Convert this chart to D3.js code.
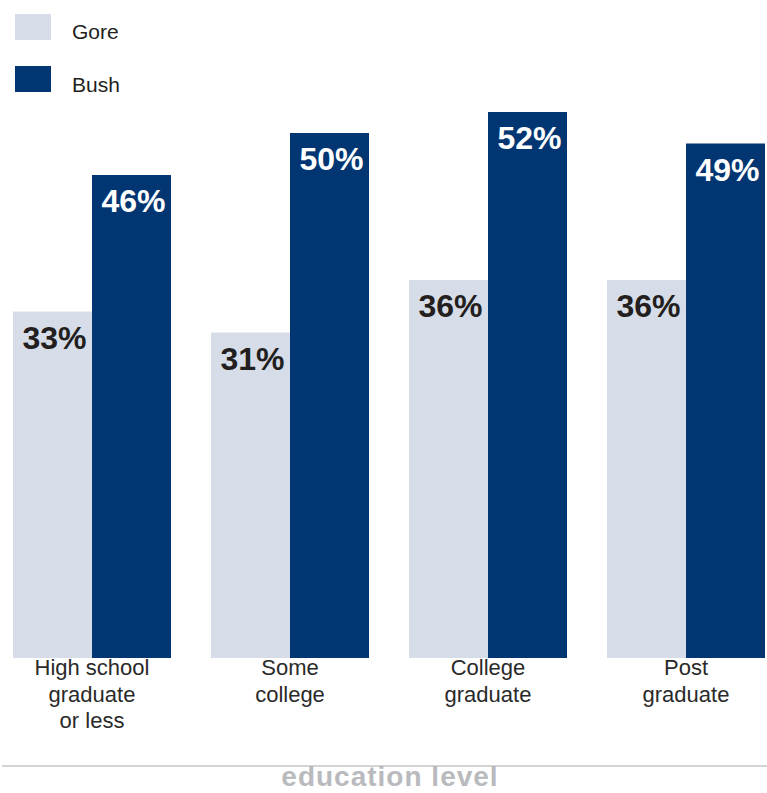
<!DOCTYPE html>
<html><head><meta charset="utf-8">
<script src="https://cdn.jsdelivr.net/npm/d3@7"></script>
<style>html,body{margin:0;padding:0;background:#fff;}svg{display:block;}</style>
</head><body>
<script>
const categories = [["High school","graduate","or less"],["Some","college"],["College","graduate"],["Post","graduate"]];
const categoryKeys = ["hs","some","college","post"];
const series = ["Gore","Bush"];
const goreValues = [33, 31, 36, 36];
const bushValues = [46, 50, 52, 49];
const colors = {Gore:"#d7dde8", Bush:"#023672"};
const labelColors = {Gore:"#231f20", Bush:"#ffffff"};

const W = 767, H = 793;
const svg = d3.select("body").append("svg").attr("width", W).attr("height", H);

const x0 = d3.scaleBand().domain(categoryKeys).range([13, 765]).paddingInner(40/198);
const x1 = d3.scaleBand().domain(series).range([0, x0.bandwidth()]);
const y = d3.scaleLinear().domain([0, 50]).range([658, 133]);

const data = categoryKeys.map((k, i) => ({key: k, values: [{s:"Gore", v: goreValues[i]}, {s:"Bush", v: bushValues[i]}]}));

const g = svg.append("g");
const groups = g.selectAll("g.grp").data(data).join("g")
  .attr("class","grp").attr("transform", d => `translate(${x0(d.key)},0)`);

groups.selectAll("rect").data(d => d.values).join("rect")
  .attr("x", d => x1(d.s)).attr("width", x1.bandwidth())
  .attr("y", d => y(d.v)).attr("height", d => y(0) - y(d.v))
  .attr("fill", d => colors[d.s]);

groups.selectAll("text.val").data(d => d.values).join("text")
  .attr("class","val")
  .attr("x", d => x1(d.s) + x1.bandwidth()/2 + 2)
  .attr("y", d => y(d.v) + 37)
  .attr("text-anchor","middle")
  .attr("font-family","Liberation Sans, Arial, sans-serif")
  .attr("font-weight","bold").attr("font-size", 32)
  .attr("fill", d => labelColors[d.s])
  .text(d => d.v + "%");

// category labels
groups.each(function(d, i){
  const t = d3.select(this).append("text")
    .attr("text-anchor","middle")
    .attr("font-family","Liberation Sans, Arial, sans-serif")
    .attr("font-size", 22).attr("fill","#2a2a2a");
  categories[i].forEach((line, j) => {
    t.append("tspan").attr("x", x0.bandwidth()/2).attr("y", 675 + j*26.5).text(line);
  });
});

// legend
const legend = svg.append("g");
series.forEach((s, i) => {
  legend.append("rect").attr("x", 15).attr("y", 14 + i*52).attr("width", 36).attr("height", 26).attr("fill", colors[s]);
  legend.append("text").attr("x", 72).attr("y", 39 + i*53)
    .attr("font-family","Liberation Sans, Arial, sans-serif").attr("font-size", 21)
    .attr("fill","#231f20").text(s);
});

// bottom rule & title
svg.append("line").attr("x1", 2).attr("x2", 767).attr("y1", 766).attr("y2", 766)
  .attr("stroke","#d4d4d4").attr("stroke-width", 2);
svg.append("text").attr("x", 390).attr("y", 786).attr("text-anchor","middle")
  .attr("font-family","Liberation Sans, Arial, sans-serif")
  .attr("font-weight","bold").attr("font-size", 28).attr("fill","#b9babd")
  .attr("letter-spacing", 1)
  .text("education level");
</script>
</body></html>
